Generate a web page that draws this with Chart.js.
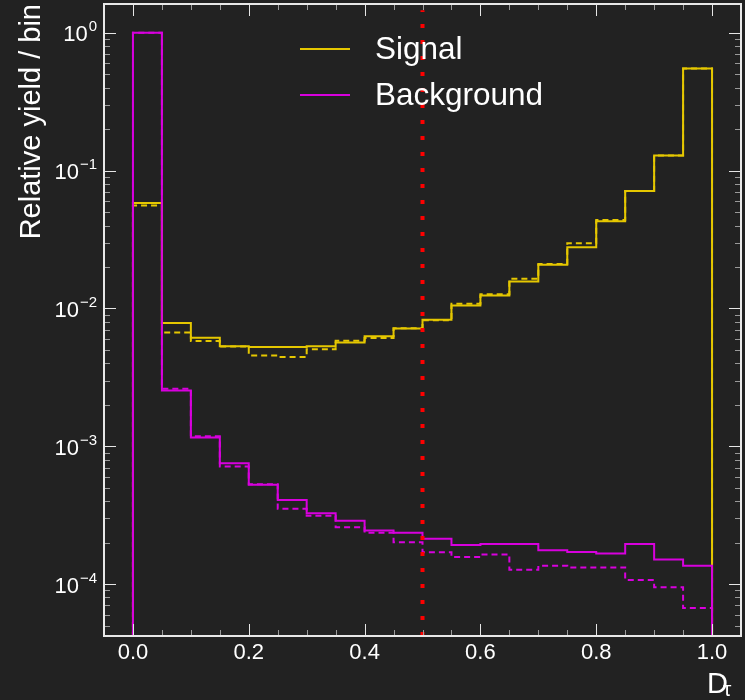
<!DOCTYPE html>
<html>
<head>
<meta charset="utf-8">
<script src="https://cdn.jsdelivr.net/npm/chart.js@4/dist/chart.umd.min.js"></script>
<style>
body { margin: 0; background: #222222; }
canvas { display: block; }
</style>
</head>
<body>
<canvas id="dtauChart" width="745" height="700"></canvas>
<script>
// bin edges of the D_tau histogram
binEdges = [0.0, 0.05, 0.1, 0.15, 0.2, 0.25, 0.3, 0.35, 0.4, 0.45, 0.5,
            0.55, 0.6, 0.65, 0.7, 0.75, 0.8, 0.85, 0.9, 0.95, 1.0];

// relative yield per bin (solid = nominal, dashed = alternative)
signalSolid = [0.0583, 0.00784, 0.00614, 0.00533, 0.00525, 0.00525, 0.00533, 0.00567, 0.0063, 0.00717,
               0.0083, 0.0105, 0.0124, 0.0157, 0.0208, 0.0278, 0.0429, 0.0713, 0.129, 0.551];
signalDashed = [0.0558, 0.0067, 0.0058, 0.0053, 0.00456, 0.00444, 0.00505, 0.00583, 0.0061, 0.0072,
                0.0082, 0.0108, 0.0127, 0.0164, 0.021, 0.0297, 0.0439, 0.0713, 0.129, 0.551];
backgroundSolid = [1.0, 0.00254, 0.00116, 0.000754, 0.000525, 0.000408, 0.000327, 0.000288, 0.000245, 0.000236,
                   0.000213, 0.000192, 0.000195, 0.000195, 0.000176, 0.000171, 0.000167, 0.000195, 0.000151, 0.000136];
backgroundDashed = [1.0, 0.00261, 0.00118, 0.000713, 0.00053, 0.000352, 0.000313, 0.000259, 0.000236, 0.000201,
                    0.00017, 0.000157, 0.000164, 0.000127, 0.000136, 0.000132, 0.000132, 0.000107, 0.0000949, 0.0000671];

legendLabels = ["Signal", "Background"];
xTickValues = [0.0, 0.2, 0.4, 0.6, 0.8, 1.0];
xTickLabels = ["0.0", "0.2", "0.4", "0.6", "0.8", "1.0"];
yTickValues = [1e-4, 1e-3, 1e-2, 1e-1, 1];
yTickExponents = ["\u22124", "\u22123", "\u22122", "\u22121", "0"];
cutValue = 0.5;

xMin = -0.05; xMax = 1.05;
yMin = 4.2e-5; yMax = 1.62;
floorValue = 1e-7; // below the axis, so the outline closes off-screen

yellow = "#e5c700";
magenta = "#d800de";
fontFamily = "'Liberation Sans', Arial, Helvetica, sans-serif";

function histPoints(values){ // closed step outline of a histogram
    let pts = [{x: binEdges[0], y: floorValue}];
    for(let i = 0; i < values.length; i++){
        pts.push({x: binEdges[i], y: values[i]});
        pts.push({x: binEdges[i+1], y: values[i]});
    }
    pts.push({x: binEdges[binEdges.length-1], y: floorValue});
    return pts;
}

function histDataset(values, color, dashed, order){
    return {
        data: histPoints(values),
        borderColor: color,
        borderWidth: 2,
        borderDash: dashed ? [6, 4] : [],
        pointRadius: 0,
        fill: false,
        tension: 0,
        order: order
    };
}

// inward ticks, frame, legend, axis labels drawn on top
framePlugin = {
    id: "frame",
    afterDraw(chart){
        const ctx = chart.ctx;
        const a = chart.chartArea;
        const xs = chart.scales.x, ys = chart.scales.y;
        ctx.save();
        ctx.lineWidth = 1;
        // x ticks (top and bottom)
        binEdges.forEach(v => {
            const px = Math.round(xs.getPixelForValue(v)) + 0.5;
            const major = xTickValues.some(t => Math.abs(t - v) < 1e-9);
            const len = major ? 12 : 6;
            ctx.strokeStyle = major ? "#e6e6e6" : "#9a9a9a";
            ctx.beginPath();
            ctx.moveTo(px, a.bottom); ctx.lineTo(px, a.bottom - len);
            ctx.moveTo(px, a.top); ctx.lineTo(px, a.top + len);
            ctx.stroke();
        });
        // y ticks (left and right)
        for(let k = -5; k <= 0; k++){
            for(let m = 1; m <= 9; m++){
                const v = m * Math.pow(10, k);
                if(v < yMin || v > yMax) continue;
                const py = Math.round(ys.getPixelForValue(v)) + 0.5;
                const len = m == 1 ? 12 : 6;
                ctx.strokeStyle = m == 1 ? "#e6e6e6" : "#9a9a9a";
                ctx.beginPath();
                ctx.moveTo(a.left, py); ctx.lineTo(a.left + len, py);
                ctx.moveTo(a.right, py); ctx.lineTo(a.right - len, py);
                ctx.stroke();
            }
        }
        // frame
        ctx.lineWidth = 2;
        ctx.strokeStyle = "#e8e8e8";
        ctx.strokeRect(a.left, a.top, a.right - a.left, a.bottom - a.top);

        // y tick labels 10^n
        ctx.fillStyle = "#ffffff";
        ctx.textBaseline = "alphabetic";
        ctx.textAlign = "left";
        yTickValues.forEach((v, i) => {
            const py = ys.getPixelForValue(v);
            ctx.font = "15px " + fontFamily;
            const ew = ctx.measureText(yTickExponents[i]).width;
            ctx.font = "22px " + fontFamily;
            const bw = ctx.measureText("10").width;
            const right = a.left - 7;
            ctx.fillText("10", right - ew - 1 - bw, py + 8.5);
            ctx.font = "15px " + fontFamily;
            ctx.fillText(yTickExponents[i], right - ew, py - 1.5);
        });

        // x axis title D_tau
        ctx.font = "29px " + fontFamily;
        ctx.fillText("D", 707, 693);
        ctx.font = "21px " + fontFamily;
        ctx.fillText("\u03c4", 723, 695.5);

        // legend
        const legendColors = [yellow, magenta];
        const legendY = [49, 95];
        legendLabels.forEach((label, i) => {
            ctx.strokeStyle = legendColors[i];
            ctx.lineWidth = 2;
            ctx.beginPath();
            ctx.moveTo(300, legendY[i]); ctx.lineTo(350, legendY[i]);
            ctx.stroke();
            ctx.fillStyle = "#ffffff";
            ctx.font = "31.5px " + fontFamily;
            ctx.textBaseline = "middle";
            ctx.fillText(label, 375, legendY[i] + 1);
        });
        ctx.restore();
    }
};

new Chart("dtauChart", {
    type: "line",
    data: {
        datasets: [
            {
                data: [{x: cutValue, y: yMin}, {x: cutValue, y: 1.46}],
                borderColor: "#ff0000",
                borderWidth: 4,
                borderDash: [4, 12],
                borderCapStyle: "butt",
                pointRadius: 0,
                fill: false,
                order: 0
            },
            histDataset(backgroundSolid, magenta, false, 1),
            histDataset(signalSolid, yellow, false, 2),
            histDataset(backgroundDashed, magenta, true, 3),
            histDataset(signalDashed, yellow, true, 4)
        ]
    },
    options: {
        responsive: false,
        animation: false,
        devicePixelRatio: 1,
        events: [],
        layout: {padding: {top: 4, right: 4, left: 0, bottom: 0}},
        plugins: {legend: {display: false}, tooltip: {enabled: false}},
        scales: {
            x: {
                type: "linear",
                min: xMin,
                max: xMax,
                afterBuildTicks: s => { s.ticks = xTickValues.map(v => ({value: v})); },
                afterFit: s => { s.height = 64; },
                grid: {display: false, drawTicks: false, tickLength: 0},
                border: {display: false},
                ticks: {
                    color: "#ffffff",
                    font: {family: fontFamily, size: 22},
                    padding: 4,
                    maxRotation: 0,
                    autoSkip: false,
                    callback: (v) => xTickLabels[xTickValues.indexOf(v)]
                }
            },
            y: {
                type: "logarithmic",
                min: yMin,
                max: yMax,
                afterBuildTicks: s => { s.ticks = yTickValues.map(v => ({value: v})); },
                afterFit: s => { s.width = 104; },
                grid: {display: false, drawTicks: false, tickLength: 0},
                border: {display: false},
                ticks: {display: false},
                title: {
                    display: true,
                    text: "Relative yield / bin",
                    align: "end",
                    color: "#ffffff",
                    font: {family: fontFamily, size: 29},
                    padding: {top: 15, bottom: 0}
                }
            }
        }
    },
    plugins: [framePlugin]
});
</script>
</body>
</html>
